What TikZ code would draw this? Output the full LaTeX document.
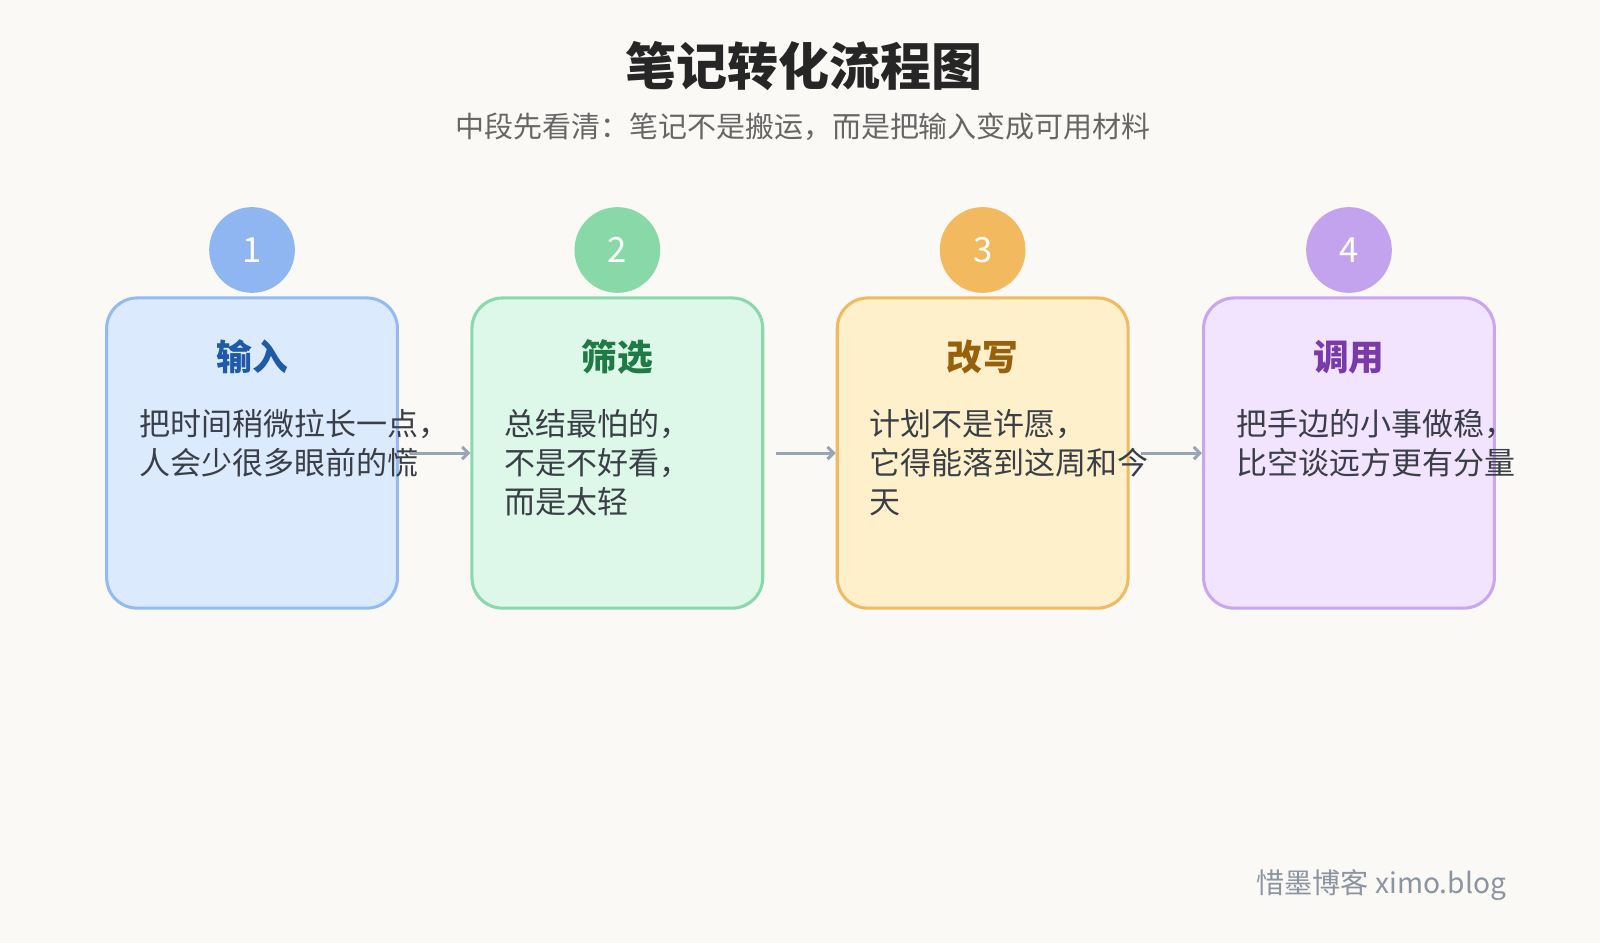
\documentclass[tikz,border=0pt]{standalone}
\usepackage{fontspec}
\setmainfont{Noto Sans CJK SC}
\usepackage{xcolor}
\usetikzlibrary{positioning, arrows.meta, calc}

\definecolor{bgpaper}{HTML}{FAF9F5}
\definecolor{linegray}{HTML}{9AA5B4}
\definecolor{bodytext}{HTML}{3A3F47}
\definecolor{fillA}{HTML}{DCEAFE}\definecolor{drawA}{HTML}{93BBF2}\definecolor{dotA}{HTML}{8FB6F0}\definecolor{headA}{HTML}{1E5AA8}
\definecolor{fillB}{HTML}{DDF7E8}\definecolor{drawB}{HTML}{8AD8AC}\definecolor{dotB}{HTML}{88D8A8}\definecolor{headB}{HTML}{1F7A45}
\definecolor{fillC}{HTML}{FEF0CB}\definecolor{drawC}{HTML}{F2BA60}\definecolor{dotC}{HTML}{F2B95E}\definecolor{headC}{HTML}{98600A}
\definecolor{fillD}{HTML}{F2E3FF}\definecolor{drawD}{HTML}{C9A6F0}\definecolor{dotD}{HTML}{C4A3EE}\definecolor{headD}{HTML}{7A3AA8}

\tikzset{
    step/.style={draw=draw#1, fill=fill#1, line width=1.5pt, rounded corners=15pt,
        minimum width=142.5pt, minimum height=152pt, inner sep=0pt},
    badge/.style={circle, fill=dot#1, minimum size=42pt, inner sep=0pt,
        text=white, font=\fontsize{17}{17}\selectfont},
    head/.style={text=head#1, font=\fontsize{17.5}{17.5}\selectfont\bfseries},
    body/.style={text=bodytext, anchor=north west, inner sep=0pt, align=left,
        font=\fontsize{15.2}{19}\selectfont},
    flow/.style={draw=linegray, line width=1.5pt, -{Straight Barb[length=3pt]}}
}

\begin{document}
\begin{tikzpicture}[x=0.5pt, y=-0.5pt]
    \fill[bgpaper] (0,0) rectangle (1568,924);

    % heading
    \node[font=\fontsize{25}{25}\selectfont\bfseries, text=black!85] (title) at (788,65) {笔记转化流程图};
    \node[font=\fontsize{14.2}{14.2}\selectfont, text=black!60] (subtitle) at (787,124) {中段先看清：笔记不是搬运，而是把输入变成可用材料};

    % the four steps
    \foreach \k/\x/\num/\name/\txt in {
        A/247/1/输入/{把时间稍微拉长一点，\\人会少很多眼前的慌},
        B/605/2/筛选/{总结最怕的，\\不是不好看，\\而是太轻},
        C/963/3/改写/{计划不是许愿，\\它得能落到这周和今\\天},
        D/1322/4/调用/{把手边的小事做稳，\\比空谈远方更有分量}} {
        \node[step=\k] (box\num) at (\x,444) {};
        \node[badge=\k] (dot\num) at (\x,245) {\num};
        \node[head=\k] (head\num) at (\x,350) {\name};
        \node[body] (text\num) at (\x-111,401) {\txt};
    }

    % connectors
    \draw[flow] ([xshift=5.5pt]box1.east) -- (box2.west);
    \draw[flow] ([xshift=5.5pt]box2.east) -- (box3.west);
    \draw[flow] ([xshift=5.5pt]box3.east) -- (box4.west);

    % footer
    \node[anchor=east, text=linegray!90!black, font=\fontsize{13.8}{13.8}\selectfont] (footer) at (1483,867) {惜墨博客 ximo.blog};
\end{tikzpicture}
\end{document}
